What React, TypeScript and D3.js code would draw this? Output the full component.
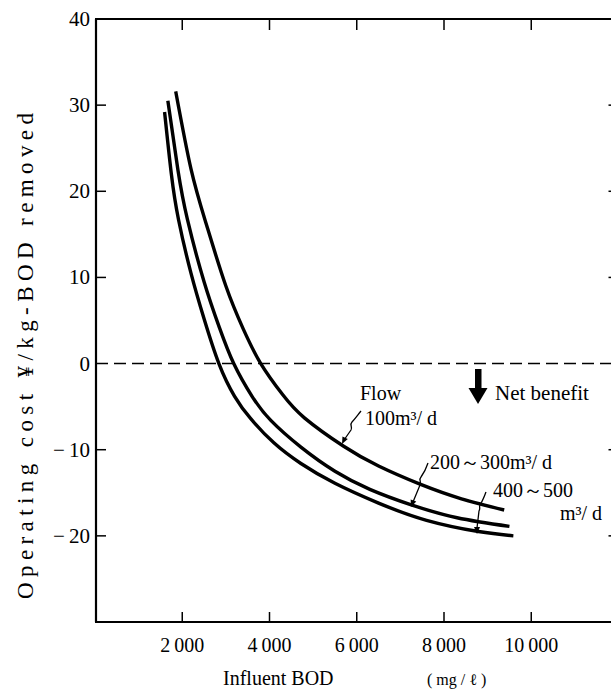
import React from "react";
import * as d3 from "d3";

const xTicks = [2000, 4000, 6000, 8000, 10000];
const xTickLabels = ["2\u2009000", "4\u2009000", "6\u2009000", "8\u2009000", "10\u2009000"];
const yTicks = [40, 30, 20, 10, 0, -10, -20];
const yTickLabels = ["40", "30", "20", "10", "0", "\u2212\u200910", "\u2212\u200920"];

const bod100 = [1850, 2200, 2550, 3000, 3400, 3800, 4300, 4800, 5700, 6500, 7450, 8400, 9380];
const cost100 = [31.6, 22.6, 16.2, 9.0, 4.0, 0, -3.6, -6.3, -9.6, -11.9, -14.0, -15.7, -17.0];

const bod200 = [1670, 1900, 2120, 2500, 2850, 3180, 3600, 4030, 4720, 5500, 6300, 7250, 8300, 9500];
const cost200 = [30.5, 22.5, 16.7, 9.5, 4.2, 0, -3.8, -6.6, -9.7, -12.5, -14.6, -16.4, -17.9, -18.9];

const bod400 = [1595, 1750, 1915, 2200, 2500, 2840, 3200, 3570, 4100, 4720, 5500, 6500, 7600, 8790, 9590];
const cost400 = [29.2, 22.0, 16.7, 10.5, 5.2, 0, -3.8, -6.4, -9.2, -11.6, -13.9, -16.2, -18.2, -19.5, -20.0];

const FONT = "Liberation Serif";

export default function App() {
  const x = d3.scaleLinear().domain([0, 12000]).range([95, 618.5]);
  const y = d3.scaleLinear().domain([-30, 40]).range([622, 19]);
  const line = d3
    .line<[number, number]>()
    .x((d) => x(d[0]))
    .y((d) => y(d[1]))
    .curve(d3.curveNatural);
  const series = [
    bod100.map((b, i) => [b, cost100[i]] as [number, number]),
    bod200.map((b, i) => [b, cost200[i]] as [number, number]),
    bod400.map((b, i) => [b, cost400[i]] as [number, number]),
  ];
  const x0 = x(0) + 1;
  const xr = x(12000);
  const yTop = y(40);
  const yBot = y(-30);

  const arrowHead = (tx: number, ty: number, fx: number, fy: number) => {
    const ang = Math.atan2(ty - fy, tx - fx);
    const L = 7;
    const W = 3;
    const bx = tx - L * Math.cos(ang);
    const by = ty - L * Math.sin(ang);
    const px = -Math.sin(ang) * W;
    const py = Math.cos(ang) * W;
    return `M${tx},${ty}L${bx + px},${by + py}L${bx - px},${by - py}Z`;
  };

  return (
    <svg
      width={611}
      height={689}
      style={{ position: "absolute", left: 0, top: 0, background: "#fff", fontFamily: "'Liberation Serif', 'DejaVu Serif', serif" }}
    >
      <rect x={0} y={0} width={611} height={689} fill="#fff" />
      {/* frame */}
      <line x1={x0} x2={x0} y1={yTop} y2={yBot} stroke="#000" strokeWidth={2.2} />
      <line x1={x0 - 1} x2={xr} y1={yBot} y2={yBot} stroke="#000" strokeWidth={2.2} />
      <line x1={x0 - 1} x2={xr} y1={yTop} y2={yTop} stroke="#000" strokeWidth={2} />
      <line x1={xr} x2={xr} y1={yTop} y2={yBot} stroke="#000" strokeWidth={2} />

      {/* x ticks */}
      {xTicks.map((t, i) => (
        <g key={"xt" + t}>
          <line x1={x(t)} x2={x(t)} y1={yBot} y2={yBot - 10} stroke="#000" strokeWidth={1.5} />
          <line x1={x(t)} x2={x(t)} y1={yTop} y2={yTop + 11} stroke="#000" strokeWidth={1.5} />
          <text x={x(t)} y={652} textAnchor="middle" fontSize={20} fontFamily={FONT}>
            {xTickLabels[i]}
          </text>
        </g>
      ))}

      {/* y ticks */}
      {yTicks.map((t, i) => (
        <g key={"yt" + t}>
          {t !== 40 && t !== 0 && (
            <>
              <line x1={x0} x2={x0 + 10} y1={y(t)} y2={y(t)} stroke="#000" strokeWidth={1.5} />
              <line x1={xr} x2={xr - 10} y1={y(t)} y2={y(t)} stroke="#000" strokeWidth={1.5} />
            </>
          )}
          <text x={90} y={y(t) + 7} textAnchor="end" fontSize={21} fontFamily={FONT}>
            {yTickLabels[i]}
          </text>
        </g>
      ))}

      {/* zero dashed line */}
      <line
        x1={x0}
        x2={xr}
        y1={y(0)}
        y2={y(0)}
        stroke="#000"
        strokeWidth={1.4}
        strokeDasharray="12,6"
      />

      {/* curves */}
      {series.map((s, i) => (
        <path key={"c" + i} d={line(s) || ""} fill="none" stroke="#000" strokeWidth={3.4} />
      ))}

      {/* net benefit arrow */}
      <rect x={475} y={369} width={6.5} height={22} fill="#000" />
      <path d="M468.5,388 L487.5,388 L478,404 Z" fill="#000" />
      <text x={495} y={400} fontSize={21} fontFamily={FONT}>
        Net benefit
      </text>

      {/* labels */}
      <text x={360} y={400} fontSize={20} fontFamily={FONT}>
        Flow
      </text>
      <text x={365} y={425} fontSize={20} fontFamily={FONT}>
        100m³/ d
      </text>
      <path
        d="M361,411 C357,416 355,419 352,422 C349,425 353,427 351,430 L344,440"
        fill="none"
        stroke="#000"
        strokeWidth={1.3}
      />
      <path d={arrowHead(342, 444, 346, 436)} fill="#000" />

      <text x={430} y={469} fontSize={20} fontFamily={FONT}>
        200～300m³/ d
      </text>
      <path
        d="M428,463 C426,469 424,473 421,477 C418,480 422,482 420,485 L413,502"
        fill="none"
        stroke="#000"
        strokeWidth={1.3}
      />
      <path d={arrowHead(411, 507, 414, 499)} fill="#000" />

      <text x={493} y={497} fontSize={20} fontFamily={FONT}>
        400～500
      </text>
      <text x={560} y={520} fontSize={20} fontFamily={FONT}>
        m³/ d
      </text>
      <path
        d="M486,492 C484,497 483,500 481,503 C478,506 481,508 479,511 L477,528"
        fill="none"
        stroke="#000"
        strokeWidth={1.3}
      />
      <path d={arrowHead(477, 534, 477, 526)} fill="#000" />

      {/* axis titles */}
      <text x={223} y={685} fontSize={20} fontFamily={FONT}>
        Influent BOD
      </text>
      <text x={427} y={685} fontSize={16} fontFamily={FONT}>
        ( mg / ℓ )
      </text>
      <text
        transform="translate(33,356) rotate(-90)"
        textAnchor="middle"
        fontSize={23}
        fontFamily={FONT}
        textLength={486}
        lengthAdjust="spacing"
      >
        Operating cost  ¥/kg-BOD removed
      </text>
    </svg>
  );
}
